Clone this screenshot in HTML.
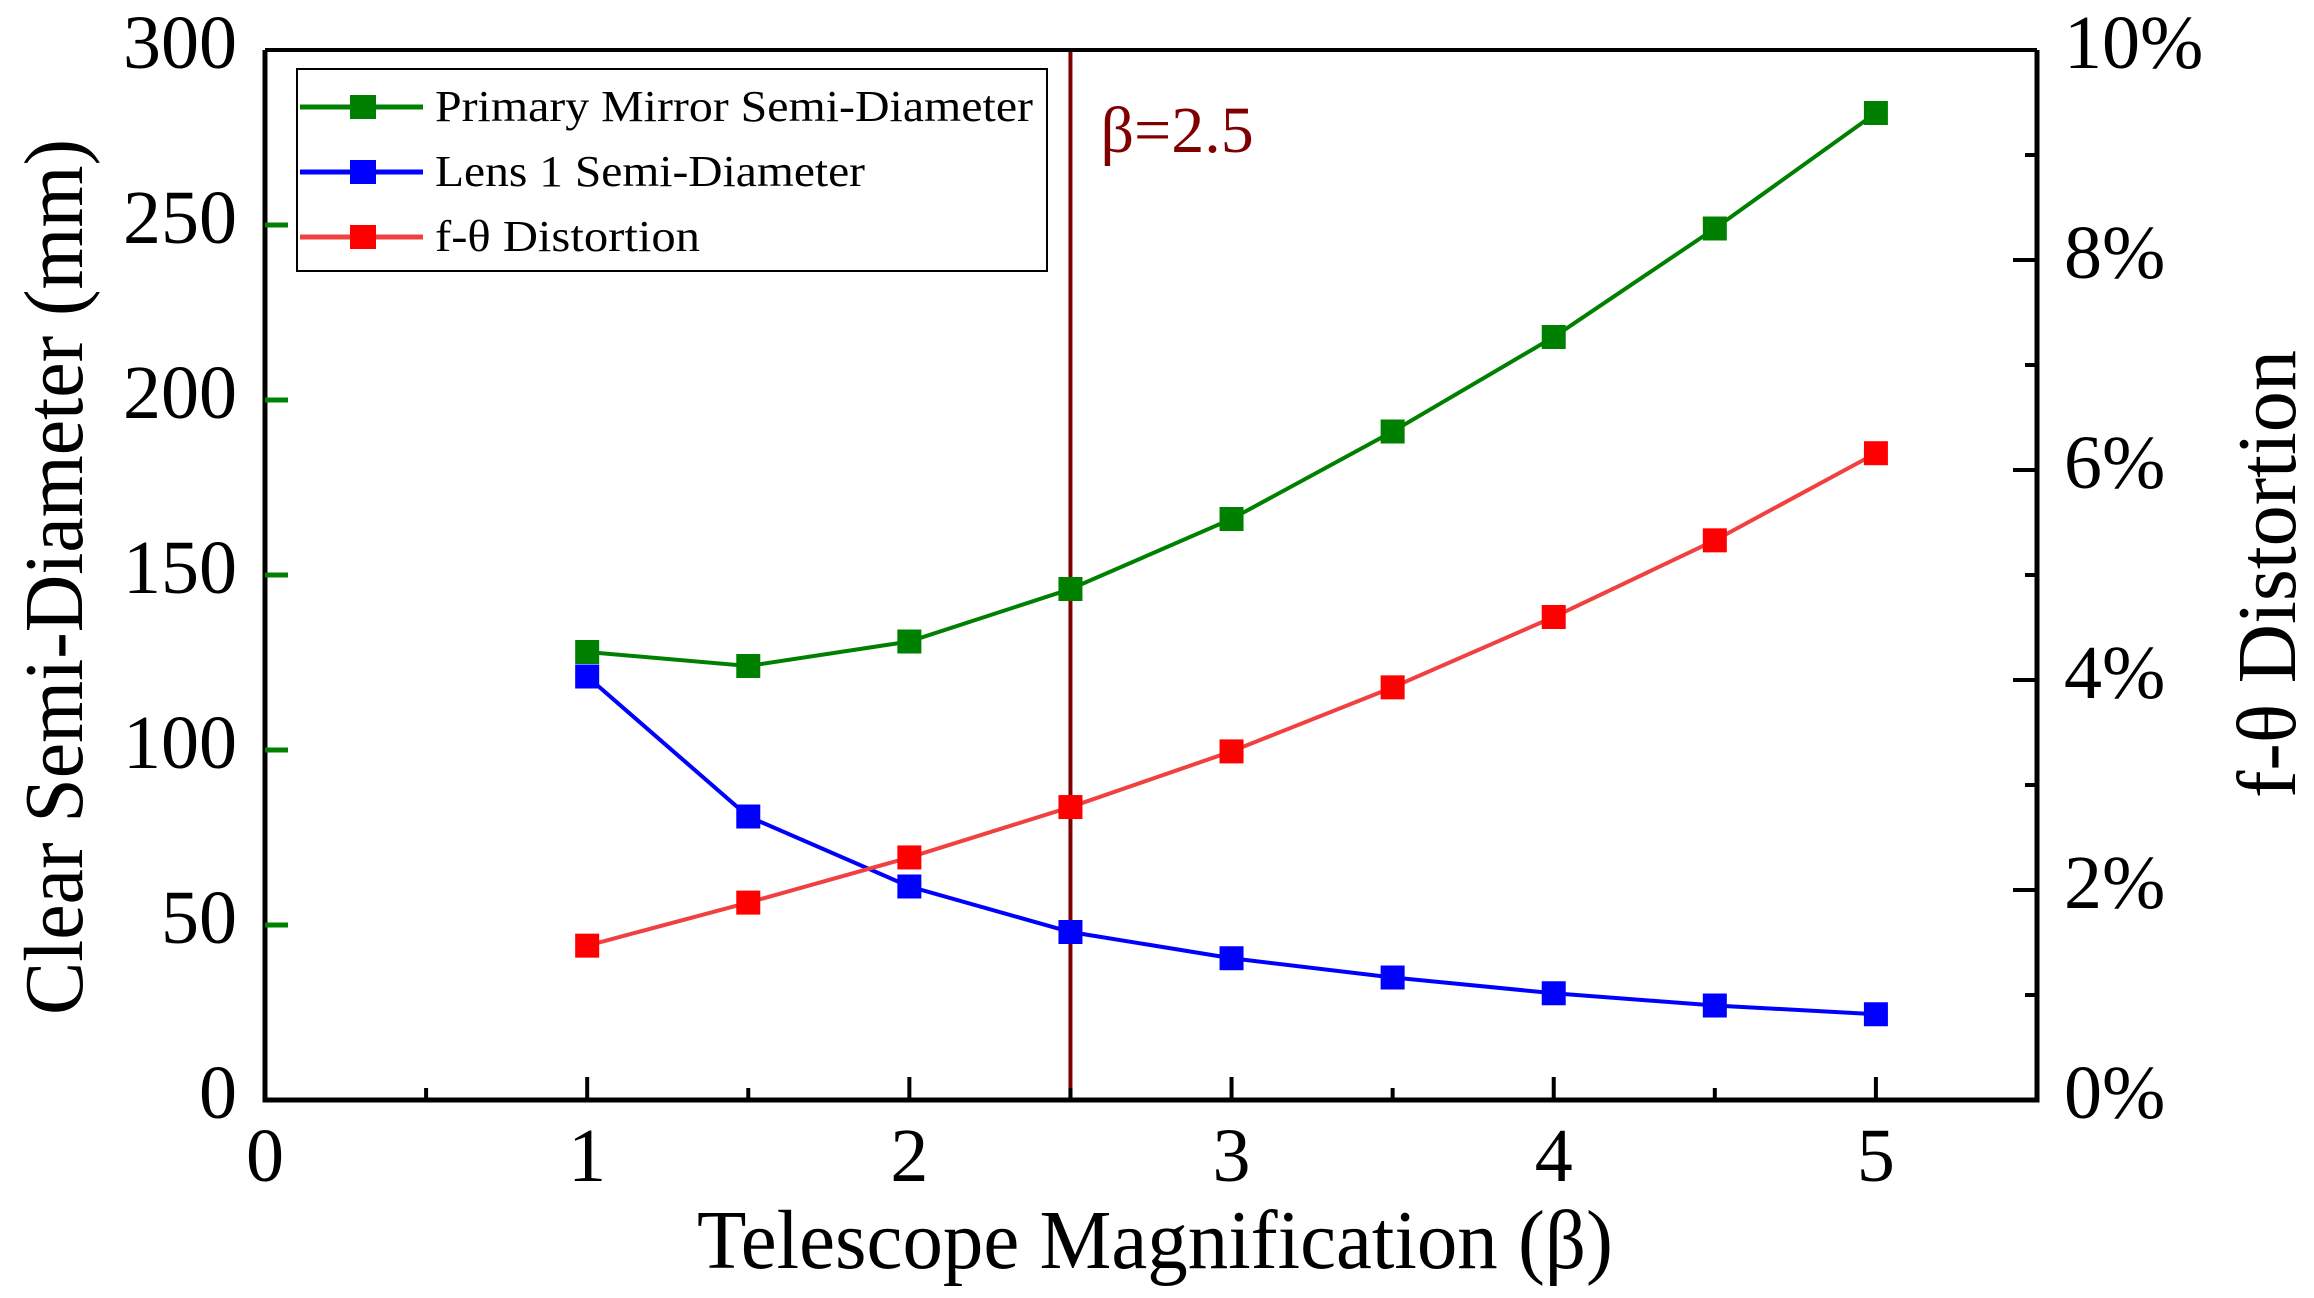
<!DOCTYPE html>
<html><head><meta charset="utf-8"><style>
html,body{margin:0;padding:0;background:#fff;}
svg{display:block;font-family:"Liberation Serif",serif;}
</style></head><body>
<svg id="chart" width="2314" height="1298" viewBox="0 0 2314 1298" xmlns="http://www.w3.org/2000/svg">
<g id="plot"></g>
</svg>
<script>
const xValues = [1, 1.5, 2, 2.5, 3, 3.5, 4, 4.5, 5];
const primaryMirror = [128, 124, 131, 146, 166, 191, 218, 249, 282];
const lens1 = [121, 81, 61, 48, 40.5, 35, 30.5, 27, 24.5];
const distortion = [1.47, 1.88, 2.31, 2.79, 3.32, 3.93, 4.60, 5.33, 6.16];
const xTicks = [0, 1, 2, 3, 4, 5];
const yLeftTicks = [0, 50, 100, 150, 200, 250, 300];
const yRightTicks = [0, 2, 4, 6, 8, 10];
const betaLine = 2.5;

const PL = 265, PR = 2037, PT = 50, PB = 1100;
const xMax = 5.5, yLMax = 300, yRMax = 10;
const sx = v => PL + v / xMax * (PR - PL);
const syL = v => PB - v / yLMax * (PB - PT);
const syR = v => PB - v / yRMax * (PB - PT);
const NS = "http://www.w3.org/2000/svg";
const plotG = document.getElementById('plot');
function mk(tag, attrs, parent) {
  const e = document.createElementNS(NS, tag);
  for (const k in attrs) e.setAttribute(k, attrs[k]);
  (parent || plotG).appendChild(e);
  return e;
}

const bl = mk('line', {x1: sx(betaLine), x2: sx(betaLine), y1: PT, y2: PB, stroke: '#800000', 'stroke-width': 4});


const bt = mk('text', {x: sx(betaLine) + 30, y: 152, 'font-size': 66, fill: '#800000'});
bt.textContent = 'β=2.5';



function series(vals, sy, color, lineColor, name) {
  const sg = mk('g', {});
  
  
  const pts = xValues.map((x, i) => sx(x) + ',' + sy(vals[i])).join(' ');
  mk('polyline', {points: pts, fill: 'none', stroke: lineColor, 'stroke-width': 4}, sg);
  xValues.forEach((x, i) => {
    const m = mk('rect', {x: sx(x) - 12, y: sy(vals[i]) - 12, width: 24, height: 24, fill: color}, sg);
    
    
  });
}
series(primaryMirror, syL, '#008000', '#008000', 'primary-mirror-series');
series(lens1, syL, '#0000ff', '#0000ff', 'lens1-series');
series(distortion, syR, '#ff0000', '#f04040', 'distortion-series');

const axFrame = mk('path', {d: `M${PL},${PT} L${PL},${PB} L${PR},${PB} L${PR},${PT}`, fill: 'none', stroke: '#000', 'stroke-width': 5});


const topBorder = mk('line', {x1: PL, x2: PR, y1: PT, y2: PT, stroke: '#000', 'stroke-width': 4});



for (let v = 0.5; v <= 5; v += 0.5) {
  const major = Number.isInteger(v);
  mk('line', {x1: sx(v), x2: sx(v), y1: PB, y2: PB - (major ? 23 : 12), stroke: '#000', 'stroke-width': 4});
}
xTicks.forEach(v => {
  const t = mk('text', {x: sx(v), y: 1181, 'font-size': 76, 'text-anchor': 'middle'});
  t.textContent = v;
  
  
});
yLeftTicks.forEach(v => {
  if (v > 0 && v < 300) mk('line', {x1: PL, x2: PL + 23, y1: syL(v), y2: syL(v), stroke: '#008000', 'stroke-width': 5});
  const t = mk('text', {x: 237, y: syL(v) + 18, 'font-size': 76, 'text-anchor': 'end'});
  t.textContent = v;
  
  
});
for (let v = 1; v < 10; v++) {
  mk('line', {x1: PR, x2: PR - (v % 2 === 0 ? 24 : 12), y1: syR(v), y2: syR(v), stroke: '#000', 'stroke-width': 4});
}
yRightTicks.forEach(v => {
  const t = mk('text', {x: 2064, y: syR(v) + 18, 'font-size': 76});
  t.textContent = v + '%';
  
  
});

const xt = mk('text', {x: 1155, y: 1268, 'font-size': 84, 'text-anchor': 'middle', textLength: 916, lengthAdjust: 'spacingAndGlyphs'});
xt.textContent = 'Telescope Magnification (β)';


const yt = mk('text', {x: 0, y: 0, 'font-size': 84, 'text-anchor': 'middle', textLength: 876, lengthAdjust: 'spacingAndGlyphs', transform: 'translate(82,577) rotate(-90)'});
yt.textContent = 'Clear Semi-Diameter (mm)';


const yr = mk('text', {x: 0, y: 0, 'font-size': 84, 'text-anchor': 'middle', textLength: 448, lengthAdjust: 'spacingAndGlyphs', transform: 'translate(2295,574) rotate(-90)'});
yr.textContent = 'f-θ Distortion';



const lg = mk('g', {});


mk('rect', {x: 297, y: 69, width: 750, height: 202, fill: '#fff', stroke: '#000', 'stroke-width': 2}, lg);
const legendItems = [['Primary Mirror Semi-Diameter', '#008000', '#008000', 598], ['Lens 1 Semi-Diameter', '#0000ff', '#0000ff', 430], ['f-θ Distortion', '#ff0000', '#f04040', 265]];
legendItems.forEach((it, i) => {
  const y = 107 + i * 65;
  const e = mk('g', {}, lg);
  
  
  mk('line', {x1: 300, x2: 423, y1: y, y2: y, stroke: it[2], 'stroke-width': 5}, e);
  mk('rect', {x: 350, y: y - 12, width: 26, height: 24, fill: it[1]}, e);
  const t = mk('text', {x: 435, y: y + 14, 'font-size': 44, textLength: it[3], lengthAdjust: 'spacingAndGlyphs'}, e);
  t.textContent = it[0];
});
</script>
</body></html>
